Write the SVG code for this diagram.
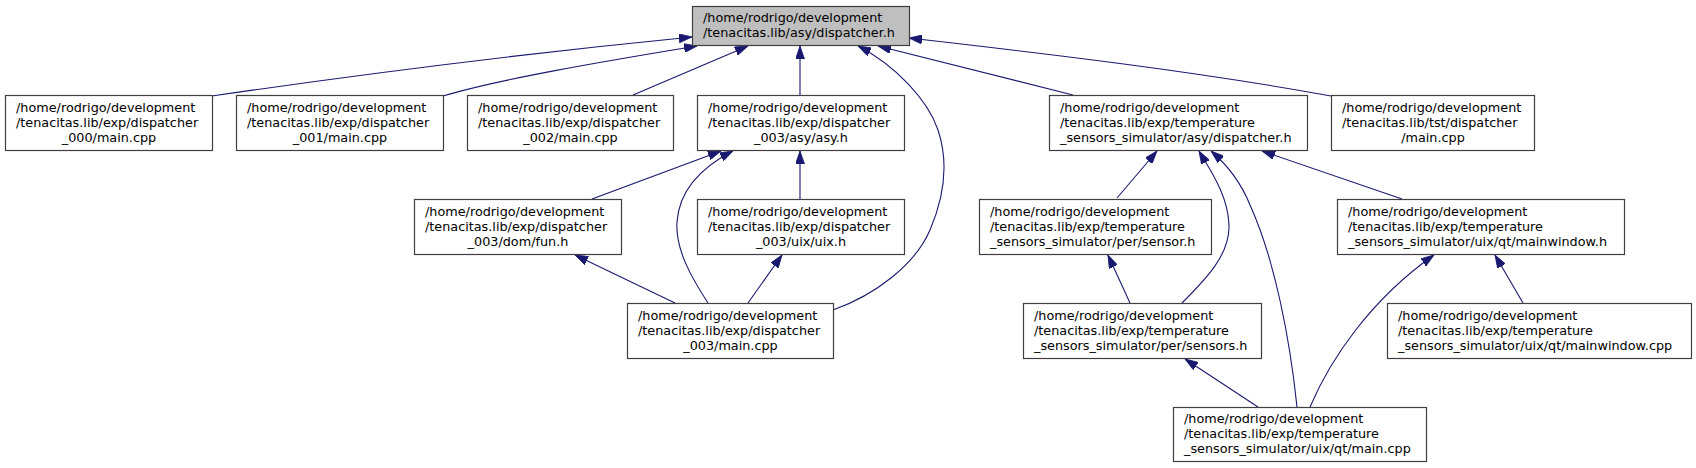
<svg xmlns="http://www.w3.org/2000/svg" width="1696" height="468" viewBox="0 0 1696 468">
<style>
.node rect{fill:#ffffff;stroke:#404040;stroke-width:1.2}
.root rect{fill:#bfbfbf}
text{font-family:"DejaVu Sans","Liberation Sans",sans-serif;font-size:12.8px;fill:#000}
.c{text-anchor:middle}
.edges path{fill:none;stroke:#191970;stroke-width:1.1;marker-end:url(#arr)}
</style>
<defs>
<marker id="arr" viewBox="0 0 13 9" refX="13" refY="4.5" markerWidth="13" markerHeight="9" markerUnits="userSpaceOnUse" orient="auto">
<path d="M0,0 L13,4.5 L0,9 Z" fill="#191970" stroke="#191970" stroke-width="0.8"/>
</marker>
</defs>
<rect width="1696" height="468" fill="#ffffff"/>
<g class="edges" id="edges">
<path d="M212,96 C390,70 540,52 692,37"/>
<path d="M443,96 C500,79 600,62 697,46"/>
<path d="M633,95 L748,46"/>
<path d="M800,95 L800,46"/>
<path d="M833,310 C875,295 915,265 930,230 C945,195 948,160 938,130 C928,100 895,65 858,46"/>
<path d="M1073,95 L878,46"/>
<path d="M1331,96 C1200,72 1050,54 909,38"/>
<path d="M592,199 L721,151"/>
<path d="M708,303 C693,280 675,250 677,222 C679,192 700,168 733,151"/>
<path d="M800,199 L800,151"/>
<path d="M675,303 L575,255"/>
<path d="M748,303 L782,255"/>
<path d="M1117,198 L1157,151"/>
<path d="M1182,303 C1205,280 1230,255 1229,225 C1228,195 1210,170 1199,151"/>
<path d="M1297,407 C1290,340 1275,260 1250,205 C1240,180 1225,163 1211,151"/>
<path d="M1402,199 L1262,151"/>
<path d="M1130,303 L1108,255"/>
<path d="M1258,407 L1185,359"/>
<path d="M1523,303 L1495,255"/>
<path d="M1310,407 C1330,360 1370,300 1434,255"/>
</g>
<g class="node root" id="node-root">
<rect x="692.5" y="6.5" width="217" height="39"/>
<text x="703" y="22">/home/rodrigo/development</text>
<text x="703" y="37">/tenacitas.lib/asy/dispatcher.h</text>
</g>
<g class="node" id="node-d000">
<rect x="5.5" y="95.5" width="207" height="55"/>
<text x="16" y="111.5">/home/rodrigo/development</text>
<text x="16" y="126.5">/tenacitas.lib/exp/dispatcher</text>
<text class="c" x="109" y="141.5">_000/main.cpp</text>
</g>
<g class="node" id="node-d001">
<rect x="236.5" y="95.5" width="207" height="55"/>
<text x="247" y="111.5">/home/rodrigo/development</text>
<text x="247" y="126.5">/tenacitas.lib/exp/dispatcher</text>
<text class="c" x="340" y="141.5">_001/main.cpp</text>
</g>
<g class="node" id="node-d002">
<rect x="467.5" y="95.5" width="206" height="55"/>
<text x="478" y="111.5">/home/rodrigo/development</text>
<text x="478" y="126.5">/tenacitas.lib/exp/dispatcher</text>
<text class="c" x="570.5" y="141.5">_002/main.cpp</text>
</g>
<g class="node" id="node-asy">
<rect x="697.5" y="95.5" width="207" height="55"/>
<text x="708" y="111.5">/home/rodrigo/development</text>
<text x="708" y="126.5">/tenacitas.lib/exp/dispatcher</text>
<text class="c" x="801" y="141.5">_003/asy/asy.h</text>
</g>
<g class="node" id="node-tdisp">
<rect x="1049.5" y="95.5" width="258" height="55"/>
<text x="1060" y="111.5">/home/rodrigo/development</text>
<text x="1060" y="126.5">/tenacitas.lib/exp/temperature</text>
<text x="1060" y="141.5">_sensors_simulator/asy/dispatcher.h</text>
</g>
<g class="node" id="node-tst">
<rect x="1331.5" y="95.5" width="203" height="55"/>
<text x="1342" y="111.5">/home/rodrigo/development</text>
<text x="1342" y="126.5">/tenacitas.lib/tst/dispatcher</text>
<text class="c" x="1433" y="141.5">/main.cpp</text>
</g>
<g class="node" id="node-fun">
<rect x="414.5" y="199.5" width="207" height="55"/>
<text x="425" y="215.5">/home/rodrigo/development</text>
<text x="425" y="230.5">/tenacitas.lib/exp/dispatcher</text>
<text class="c" x="518" y="245.5">_003/dom/fun.h</text>
</g>
<g class="node" id="node-uix">
<rect x="697.5" y="199.5" width="207" height="55"/>
<text x="708" y="215.5">/home/rodrigo/development</text>
<text x="708" y="230.5">/tenacitas.lib/exp/dispatcher</text>
<text class="c" x="801" y="245.5">_003/uix/uix.h</text>
</g>
<g class="node" id="node-sensor">
<rect x="979.5" y="199.5" width="232" height="55"/>
<text x="990" y="215.5">/home/rodrigo/development</text>
<text x="990" y="230.5">/tenacitas.lib/exp/temperature</text>
<text x="990" y="245.5">_sensors_simulator/per/sensor.h</text>
</g>
<g class="node" id="node-mwh">
<rect x="1337.5" y="199.5" width="287" height="55"/>
<text x="1348" y="215.5">/home/rodrigo/development</text>
<text x="1348" y="230.5">/tenacitas.lib/exp/temperature</text>
<text x="1348" y="245.5">_sensors_simulator/uix/qt/mainwindow.h</text>
</g>
<g class="node" id="node-main003">
<rect x="627.5" y="303.5" width="206" height="55"/>
<text x="638" y="319.5">/home/rodrigo/development</text>
<text x="638" y="334.5">/tenacitas.lib/exp/dispatcher</text>
<text class="c" x="730.5" y="349.5">_003/main.cpp</text>
</g>
<g class="node" id="node-sensors">
<rect x="1023.5" y="303.5" width="238" height="55"/>
<text x="1034" y="319.5">/home/rodrigo/development</text>
<text x="1034" y="334.5">/tenacitas.lib/exp/temperature</text>
<text x="1034" y="349.5">_sensors_simulator/per/sensors.h</text>
</g>
<g class="node" id="node-mwcpp">
<rect x="1387.5" y="303.5" width="304" height="55"/>
<text x="1398" y="319.5">/home/rodrigo/development</text>
<text x="1398" y="334.5">/tenacitas.lib/exp/temperature</text>
<text x="1398" y="349.5">_sensors_simulator/uix/qt/mainwindow.cpp</text>
</g>
<g class="node" id="node-qtmain">
<rect x="1173.5" y="407.5" width="253" height="54"/>
<text x="1184" y="423">/home/rodrigo/development</text>
<text x="1184" y="438">/tenacitas.lib/exp/temperature</text>
<text x="1184" y="453">_sensors_simulator/uix/qt/main.cpp</text>
</g>
</svg>
